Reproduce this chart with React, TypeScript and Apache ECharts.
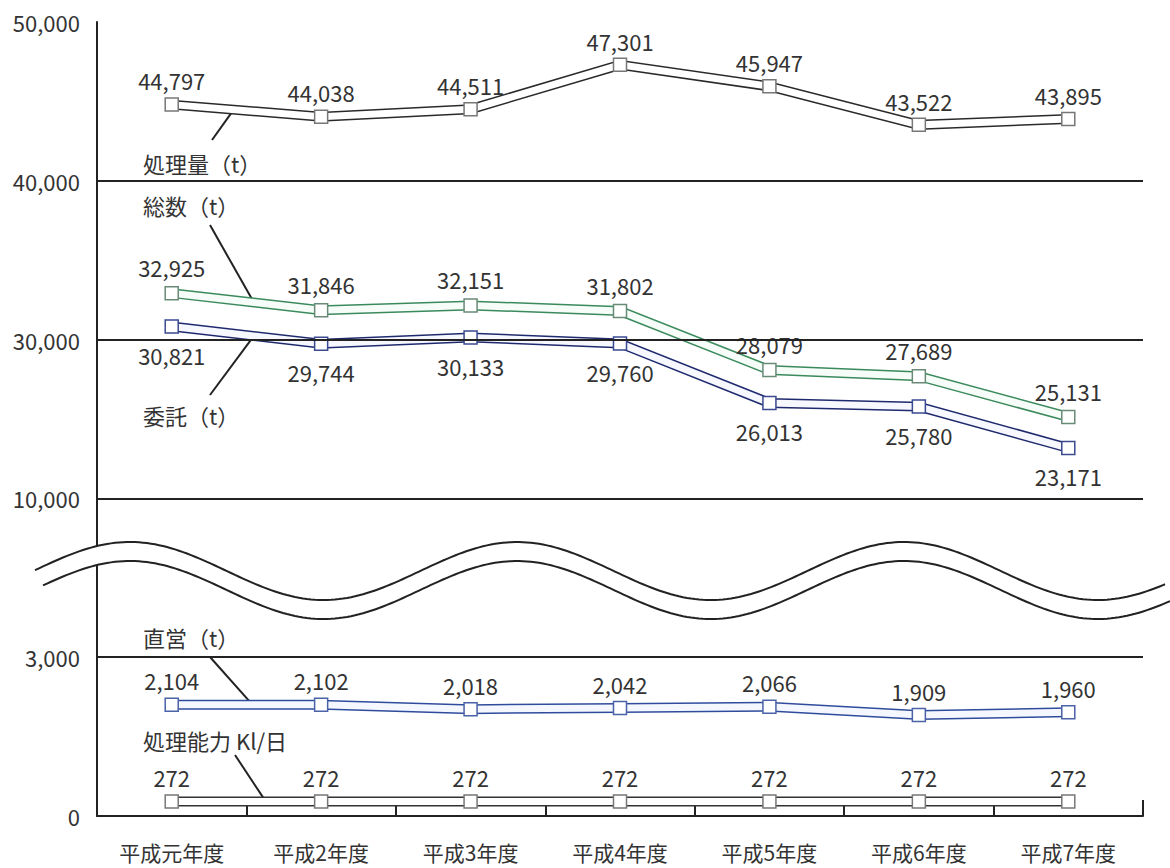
import React, { useEffect, useRef } from "react";
import * as echarts from "echarts";

const categories = ["平成元年度", "平成2年度", "平成3年度", "平成4年度", "平成5年度", "平成6年度", "平成7年度"];
const shoriryo = [44797, 44038, 44511, 47301, 45947, 43522, 43895];
const sosu = [32925, 31846, 32151, 31802, 28079, 27689, 25131];
const itaku = [30821, 29744, 30133, 29760, 26013, 25780, 23171];
const chokuei = [2104, 2102, 2018, 2042, 2066, 1909, 1960];
const noryoku = [272, 272, 272, 272, 272, 272, 272];
const yTickLabels = ["0", "3,000", "10,000", "30,000", "40,000", "50,000"];
const gridLevels = [1, 2, 3, 4];

const FONT = '"Noto Sans CJK JP", "Noto Sans", sans-serif';

// broken axis: lower panel 0–3,000, upper panel drawn at 10,000 per band
function toDisplay(v: number): number {
  if (v <= 3000) return v / 3000;
  return v / 10000;
}
const fmt = (v: number) => v.toLocaleString("en-US");

function makeSeries(
  name: string,
  values: number[],
  color: string,
  inner: string,
  marker: string,
  pos: string,
  dist: number
) {
  const data = values.map(toDisplay);
  return [
    {
      type: "line",
      name: name + "-outline",
      data,
      silent: true,
      symbol: "none",
      lineStyle: { color, width: 10, join: "miter" },
      z: 2,
    },
    {
      type: "line",
      name,
      data,
      symbol: "rect",
      symbolSize: 13,
      lineStyle: { color: inner, width: 7, join: "miter" },
      itemStyle: { color: "#fff", borderColor: marker, borderWidth: 1.5 },
      label: {
        show: true,
        position: pos,
        distance: dist,
        formatter: (p: any) => fmt(values[p.dataIndex]),
        fontSize: 22,
        color: "#333",
        fontFamily: FONT,
      },
      z: 3,
    },
  ];
}

function wavePts(x0: number, x1: number, yc: number): number[][] {
  const pts: number[][] = [];
  const f = (x: number) => yc - 29 * Math.cos((2 * Math.PI * (x - 130)) / 387);
  for (let x = x0; x < x1; x += 4) pts.push([x, f(x)]);
  pts.push([x1, f(x1)]);
  return pts;
}

export default function App() {
  const ref = useRef<HTMLDivElement>(null);
  useEffect(() => {
    const el = ref.current!;
    const chart = echarts.init(el, null, { renderer: "svg" });
    const series: any[] = [
      {
        type: "line",
        name: "grid",
        data: [],
        silent: true,
        z: 1,
        markLine: {
          silent: true,
          symbol: "none",
          label: { show: false },
          lineStyle: { color: "#222", width: 2, type: "solid" },
          data: gridLevels.map((y) => ({ yAxis: y })),
        },
      },
      ...makeSeries("処理量", shoriryo, "#2a2a2a", "#ffffff", "#777", "top", 6),
      ...makeSeries("総数", sosu, "#3a8a5c", "#f6fcf8", "#6a8a78", "top", 8),
      ...makeSeries("委託", itaku, "#1f2a6e", "#f6f7ff", "#3a4a90", "bottom", 10),
      ...makeSeries("直営", chokuei, "#2f4c9c", "#f4f7ff", "#4a62a8", "top", 6),
      ...makeSeries("処理能力", noryoku, "#333333", "#ffffff", "#777", "top", 6),
    ];
    chart.setOption({
      animation: false,
      backgroundColor: "#fff",
      textStyle: { fontFamily: FONT },
      grid: { left: 97, right: 27, top: 22, bottom: 52 },
      xAxis: {
        type: "category",
        data: categories,
        boundaryGap: true,
        axisLine: { lineStyle: { color: "#222", width: 2 } },
        axisTick: { show: true, inside: true, length: 16, lineStyle: { color: "#222", width: 2 } },
        axisLabel: { fontSize: 21, color: "#333", margin: 25, fontFamily: FONT, lineHeight: 22 },
      },
      yAxis: {
        type: "value",
        min: 0,
        max: 5,
        interval: 1,
        axisLine: { show: true, lineStyle: { color: "#222", width: 2 } },
        axisTick: { show: false },
        splitLine: { show: false },
        axisLabel: {
          formatter: (v: number) => yTickLabels[Math.round(v)] ?? "",
          fontSize: 22,
          color: "#333",
          margin: 17,
          fontFamily: FONT,
        },
      },
      series,
    });

    const along = (vals: number[], t: number) => {
      const a = chart.convertToPixel({ gridIndex: 0 }, [0, toDisplay(vals[0])]) as number[];
      const b = chart.convertToPixel({ gridIndex: 0 }, [1, toDisplay(vals[1])]) as number[];
      return [a[0] + (b[0] - a[0]) * t, a[1] + (b[1] - a[1]) * t];
    };
    const notes = [
      { text: "処理量（t）", tx: 143, ty: 163, from: [212, 140], vals: shoriryo, t: 0.415 },
      { text: "総数（t）", tx: 143, ty: 205, from: [210, 225], vals: sosu, t: 0.55 },
      { text: "委託（t）", tx: 143, ty: 415, from: [210, 395], vals: itaku, t: 0.55 },
      { text: "直営（t）", tx: 143, ty: 637, from: [210, 657], vals: chokuei, t: 0.54 },
      { text: "処理能力 Kl/日", tx: 143, ty: 740, from: [235, 755], vals: noryoku, t: 0.63 },
    ];
    const elements: any[] = [];
    notes.forEach((n) => {
      const end = along(n.vals, n.t);
      elements.push({
        type: "line",
        z: 1,
        silent: true,
        shape: { x1: n.from[0], y1: n.from[1], x2: end[0], y2: end[1] },
        style: { stroke: "#222", lineWidth: 2 },
      });
      elements.push({
        type: "text",
        z: 5,
        silent: true,
        x: n.tx,
        y: n.ty,
        style: {
          text: n.text,
          font: `22px ${FONT}`,
          fill: "#333",
          textAlign: "left",
          textVerticalAlign: "middle",
          verticalAlign: "middle",
        },
      });
    });
    const up = wavePts(35, 1165, 571);
    const low = wavePts(43, 1170, 590);
    elements.push({
      type: "polygon",
      z: 50,
      silent: true,
      shape: { points: [...up, ...low.slice().reverse()] },
      style: { fill: "#fff", stroke: "none" },
    });
    elements.push({
      type: "polyline",
      z: 51,
      silent: true,
      shape: { points: up },
      style: { stroke: "#222", lineWidth: 2, fill: "none" },
    });
    elements.push({
      type: "polyline",
      z: 51,
      silent: true,
      shape: { points: low },
      style: { stroke: "#222", lineWidth: 2, fill: "none" },
    });
    chart.setOption({ graphic: { elements } });
    return () => chart.dispose();
  }, []);
  return (
    <div
      ref={ref}
      style={{ position: "fixed", left: 0, top: 0, width: 1170, height: 868, background: "#fff" }}
    />
  );
}
